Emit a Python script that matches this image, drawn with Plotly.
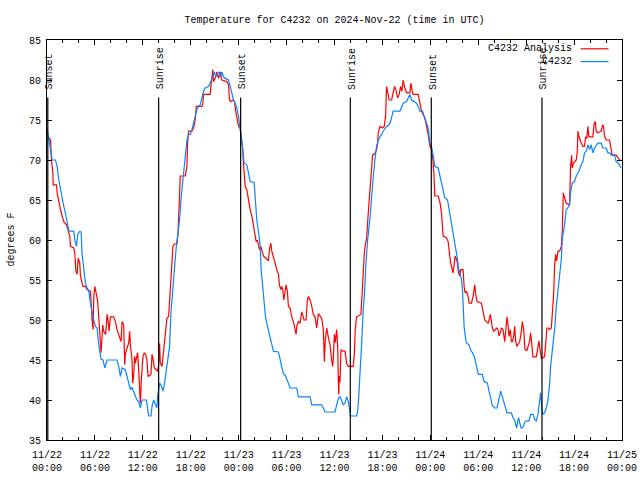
import pandas as pd
import plotly.graph_objects as go

# ---------------- data (hours after 2024-11-22 00:00 UTC, deg F) ----------------
red_hours = [0.10, 0.44, 0.56, 0.73, 0.77, 1.19, 1.27, 1.48, 1.69, 1.90, 2.10, 2.44, 2.60, 2.85, 2.94, 3.35, 3.48, 3.60, 3.77, 3.90,
             4.10, 4.19, 4.40, 4.52, 4.81, 5.02, 5.44, 5.52, 5.65, 5.77, 5.85, 5.98, 6.10, 6.19, 6.35, 6.48, 6.60, 6.69, 6.77, 6.90,
             6.98, 7.10, 7.35, 7.52, 7.65, 7.77, 7.94, 8.35, 8.56, 8.77, 9.10, 9.27, 9.40, 9.60, 9.73, 9.81, 10.02, 10.23, 10.35, 10.44,
             10.65, 10.73, 10.85, 10.98, 11.06, 11.35, 11.48, 11.60, 11.69, 11.81, 11.90, 12.02, 12.19, 12.35, 12.52, 12.65, 13.02, 13.15, 13.27, 13.44,
             13.85, 13.98, 14.10, 14.19, 14.40, 14.52, 14.69, 14.85, 15.02, 15.23, 15.35, 15.52, 15.65, 15.77, 15.94, 16.27, 16.40, 16.52, 16.60, 16.69,
             17.31, 17.52, 17.60, 17.73, 18.15, 18.35, 18.56, 18.69, 19.40, 19.52, 19.60, 20.44, 20.52, 20.65, 20.77, 20.85, 21.06, 21.27, 21.48, 21.69,
             21.90, 22.52, 22.73, 22.85, 23.02, 23.27, 23.48, 23.60, 23.77, 23.98, 24.19, 24.31, 24.48, 24.60, 24.69, 24.81, 25.02, 25.23, 25.44, 25.65,
             25.85, 26.06, 26.19, 26.35, 26.60, 26.77, 26.90, 27.10, 27.52, 27.73, 27.85, 28.02, 28.15, 28.35, 28.56, 28.77, 28.98, 29.10, 29.27, 29.40,
             29.52, 29.65, 29.77, 29.94, 30.10, 30.23, 30.44, 30.56, 30.69, 30.85, 31.06, 31.19, 31.27, 31.48, 31.69, 31.90, 32.02, 32.19, 32.44, 32.60,
             32.73, 32.94, 33.15, 33.35, 33.56, 33.77, 33.98, 34.19, 34.40, 34.60, 34.73, 34.85, 35.02, 35.23, 35.44, 35.65, 35.77, 35.85, 35.98, 36.10,
             36.27, 36.40, 36.52, 36.60, 36.69, 36.81, 37.02, 37.31, 37.52, 37.73, 38.35, 38.48, 38.60, 38.77, 39.31, 39.44, 39.60, 39.73, 39.85, 40.02,
             40.23, 40.44, 40.65, 40.77, 41.06, 41.27, 41.40, 41.48, 41.69, 42.02, 42.23, 42.40, 42.52, 42.65, 42.85, 43.15, 43.35, 43.52, 43.69, 43.90,
             44.10, 44.27, 44.44, 44.60, 44.81, 45.02, 45.44, 45.56, 45.73, 45.85, 46.48, 46.69, 46.90, 47.31, 47.52, 47.73, 47.94, 48.15, 48.27, 48.44,
             48.56, 48.98, 49.19, 49.40, 49.60, 50.02, 50.23, 50.35, 50.52, 50.69, 50.85, 50.98, 51.10, 51.27, 51.40, 51.52, 51.69, 51.81, 52.10, 52.23,
             52.35, 52.52, 52.73, 52.85, 53.15, 53.35, 53.56, 53.69, 53.85, 54.40, 54.60, 54.81, 55.02, 55.23, 55.35, 55.52, 55.65, 55.77, 55.94, 56.19,
             56.35, 56.48, 56.60, 56.77, 56.90, 57.10, 57.31, 57.44, 57.60, 57.73, 57.85, 58.02, 58.15, 58.27, 58.44, 58.56, 58.69, 58.85, 59.02, 59.19,
             59.40, 59.52, 59.69, 59.85, 60.10, 60.27, 60.44, 60.56, 60.69, 60.85, 61.27, 61.48, 61.60, 61.73, 61.90, 62.31, 62.44, 62.60, 62.77, 62.94,
             63.15, 63.27, 63.44, 63.56, 63.69, 63.81, 63.98, 64.19, 64.40, 64.52, 64.60, 64.65, 64.81, 65.02, 65.44, 65.56, 65.69, 65.77, 65.94, 66.10,
             66.27, 66.40, 66.48, 66.60, 66.73, 66.90, 67.10, 67.31, 67.44, 67.60, 67.73, 67.85, 68.35, 68.52, 68.65, 68.77, 68.98, 69.40, 69.56, 69.69,
             69.81, 70.02, 70.44, 70.60, 70.77, 71.27, 71.69, 71.85]
red_temps = [73.0, 72.5, 70.0, 68.4, 66.9, 66.9, 65.9, 64.6, 63.8, 63.0, 62.3, 61.9, 61.3, 60.5, 59.2, 59.0, 58.4, 56.3, 55.7, 57.75,
             57.1, 55.5, 54.6, 54.2, 54.2, 53.8, 53.6, 51.7, 50.0, 48.8, 52.75, 54.2, 53.8, 53.2, 52.3, 49.8, 48.4, 46.7, 45.9, 48.0,
             49.4, 48.6, 48.2, 50.7, 50.0, 48.6, 50.4, 50.4, 49.8, 48.8, 47.75, 47.3, 49.8, 49.4, 44.4, 45.7, 46.5, 47.1, 48.6, 46.9,
             45.0, 42.1, 43.0, 45.45, 44.6, 45.9, 43.8, 40.9, 39.6, 42.5, 44.2, 45.45, 45.9, 45.7, 45.0, 42.95, 43.2, 45.7, 45.2, 44.0,
             43.6, 44.4, 47.1, 44.6, 44.2, 45.45, 47.1, 49.2, 50.25, 50.4, 52.1, 55.0, 57.5, 59.2, 59.5, 59.5, 60.7, 63.0, 65.9, 68.0,
             68.0, 69.2, 72.1, 73.6, 73.6, 74.0, 75.0, 76.7, 76.7, 77.1, 78.2, 78.2, 79.2, 80.45, 81.3, 79.8, 80.2, 81.0, 80.2, 81.0,
             80.0, 79.8, 79.4, 77.5, 77.3, 77.5, 77.3, 76.3, 75.45, 74.2, 74.0, 73.2, 71.7, 69.6, 68.0, 66.7, 66.3, 65.0, 63.8, 63.0,
             61.7, 60.7, 59.8, 60.0, 58.8, 59.2, 58.8, 58.0, 57.6, 57.4, 58.8, 59.6, 58.6, 58.0, 57.1, 56.3, 55.7, 54.4, 53.8, 54.2,
             53.8, 52.5, 53.4, 54.4, 53.6, 51.7, 51.5, 50.6, 50.2, 49.8, 48.8, 48.2, 49.2, 49.8, 49.6, 51.0, 50.6, 50.0, 50.0, 52.5,
             52.95, 52.5, 51.7, 50.7, 50.4, 49.0, 50.8, 50.4, 50.2, 48.8, 44.8, 47.6, 49.0, 47.8, 46.9, 45.0, 44.2, 45.2, 48.2, 47.2,
             48.8, 46.7, 40.7, 43.0, 42.2, 46.3, 46.1, 46.1, 44.6, 44.2, 44.2, 45.7, 48.8, 50.4, 50.7, 52.95, 57.1, 58.3, 59.4, 60.2,
             63.4, 66.7, 68.8, 70.6, 70.8, 71.3, 72.1, 73.4, 74.2, 74.0, 74.2, 75.5, 79.2, 78.4, 77.5, 77.5, 78.4, 79.2, 78.8, 77.75,
             78.2, 79.2, 78.6, 80.0, 79.0, 78.4, 78.4, 79.6, 78.6, 78.2, 78.2, 77.1, 76.1, 75.25, 74.4, 73.2, 71.7, 71.3, 70.6, 68.4,
             65.5, 65.5, 64.8, 63.4, 60.5, 60.3, 59.8, 58.4, 57.3, 56.5, 55.9, 56.9, 58.0, 57.6, 57.1, 55.9, 55.5, 56.3, 56.3, 54.2,
             53.4, 53.6, 52.95, 52.1, 52.1, 52.95, 54.4, 53.2, 52.3, 52.1, 51.1, 50.0, 49.8, 49.6, 50.0, 50.7, 49.8, 49.0, 48.6, 48.8,
             49.0, 48.8, 48.0, 48.4, 49.0, 48.8, 47.3, 48.6, 50.4, 49.4, 47.95, 48.8, 47.3, 47.3, 48.0, 49.2, 47.3, 46.7, 47.1, 47.3,
             48.6, 49.8, 48.8, 46.3, 46.2, 46.7, 47.4, 48.4, 47.2, 45.4, 45.4, 46.5, 47.4, 46.4, 45.2, 45.4, 47.6, 49.0, 49.0, 48.8,
             49.0, 50.4, 53.2, 56.7, 58.2, 57.4, 58.6, 58.6, 59.2, 61.0, 63.8, 65.9, 65.3, 64.6, 64.4, 69.2, 70.6, 69.0, 69.6, 69.8,
             70.0, 71.0, 73.6, 73.0, 72.5, 72.1, 71.7, 71.7, 72.9, 72.7, 74.2, 72.9, 72.9, 74.6, 74.8, 73.6, 73.4, 73.6, 74.4, 74.2,
             73.0, 72.5, 72.5, 71.7, 70.6, 70.6, 70.0, 70.0]

blue_hours = [0.02, 0.52, 0.65, 1.06, 1.27, 1.48, 1.69, 1.90, 2.10, 2.31, 2.52, 2.73, 3.35, 3.48, 3.69, 3.85, 4.10, 4.27, 4.40, 4.60,
              4.81, 5.02, 5.23, 5.44, 5.65, 5.85, 6.06, 6.27, 6.48, 6.60, 6.77, 7.02, 7.23, 7.52, 8.77, 8.98, 9.19, 9.40, 9.81, 10.02,
              10.23, 10.44, 10.65, 10.85, 11.06, 11.27, 11.48, 11.69, 11.90, 12.44, 12.60, 12.73, 13.02, 13.15, 13.35, 13.56, 13.77, 13.85, 13.98, 14.10,
              14.27, 14.52, 14.69, 14.94, 15.15, 15.35, 15.52, 15.77, 15.98, 16.19, 16.40, 16.60, 16.77, 17.02, 17.19, 17.35, 17.52, 17.73, 17.94, 18.15,
              18.35, 18.56, 18.77, 18.98, 19.19, 19.40, 19.60, 19.81, 20.23, 20.52, 20.77, 20.94, 21.15, 21.35, 21.56, 21.69, 21.90, 22.10, 22.31, 22.73,
              22.94, 23.15, 23.35, 23.56, 23.77, 23.98, 24.19, 24.40, 24.52, 24.69, 25.02, 25.23, 25.44, 25.94, 26.06, 26.27, 26.48, 26.69, 26.81, 26.98,
              27.10, 27.23, 27.35, 27.52, 27.73, 27.94, 28.15, 28.35, 28.98, 29.19, 29.40, 29.60, 29.81, 30.02, 30.23, 30.44, 31.27, 31.48, 32.94, 33.15,
              34.40, 34.60, 34.81, 36.06, 36.27, 36.48, 36.69, 36.90, 37.10, 37.31, 37.52, 37.73, 37.94, 38.02, 38.77, 38.90, 39.02, 39.19, 39.40, 39.60,
              39.73, 39.94, 40.15, 40.44, 40.65, 40.85, 41.06, 41.27, 41.48, 41.69, 41.90, 42.10, 42.52, 42.85, 43.02, 43.19, 43.35, 44.19, 44.40, 44.60,
              45.02, 45.23, 45.44, 45.65, 46.27, 46.48, 46.69, 47.02, 47.23, 47.52, 47.73, 47.94, 48.15, 48.35, 48.56, 48.98, 49.19, 49.40, 49.60, 49.81,
              50.15, 50.35, 50.56, 50.77, 50.98, 51.06, 51.27, 51.40, 51.52, 51.69, 51.90, 52.02, 52.10, 52.23, 52.40, 52.52, 52.85, 53.02, 53.27, 53.48,
              53.69, 53.85, 54.02, 54.52, 54.69, 54.94, 55.15, 55.35, 55.52, 55.77, 56.06, 56.35, 56.60, 56.81, 57.02, 57.19, 57.44, 57.60, 58.15, 58.35,
              58.52, 58.69, 58.81, 58.94, 59.06, 59.23, 59.35, 59.56, 59.81, 60.02, 60.35, 60.56, 60.85, 61.06, 61.27, 61.48, 61.69, 61.81, 61.98, 62.10,
              62.31, 62.52, 62.73, 62.94, 63.06, 63.27, 63.44, 63.60, 63.77, 63.98, 64.19, 64.40, 64.52, 64.81, 65.02, 65.23, 65.44, 65.56, 65.77, 66.06,
              66.27, 66.60, 66.90, 67.10, 67.31, 67.52, 67.73, 67.94, 68.15, 68.35, 68.56, 68.77, 68.98, 69.40, 69.60, 70.02, 70.23, 70.44, 70.65, 71.06,
              71.27, 71.56, 71.85]
blue_temps = [73.9, 70.45, 70.0, 70.0, 69.2, 67.5, 66.3, 65.0, 64.2, 63.4, 62.3, 61.1, 61.1, 60.0, 59.2, 60.7, 61.1, 61.0, 58.2, 56.7,
              54.6, 54.0, 53.6, 52.1, 50.9, 50.0, 49.2, 49.0, 46.9, 45.9, 45.1, 45.0, 44.0, 45.0, 45.0, 44.2, 42.95, 44.0, 43.8, 42.95,
              42.1, 41.3, 41.6, 40.9, 40.5, 40.0, 39.8, 39.0, 40.0, 40.0, 38.8, 38.0, 38.0, 39.2, 40.0, 39.6, 39.0, 40.5, 41.3, 42.1,
              41.9, 41.1, 41.9, 43.8, 44.8, 46.7, 50.9, 54.6, 56.7, 59.2, 61.1, 62.5, 65.0, 67.5, 69.2, 71.3, 72.5, 73.2, 73.2, 73.8,
              74.6, 75.45, 76.3, 76.7, 76.9, 77.75, 78.6, 79.0, 79.2, 79.8, 80.45, 81.0, 80.4, 80.8, 81.0, 80.4, 81.0, 80.4, 80.2, 80.0,
              79.2, 78.4, 77.5, 77.1, 76.5, 75.45, 73.9, 72.5, 71.3, 69.6, 69.4, 68.4, 67.3, 67.2, 65.0, 62.5, 61.0, 59.4, 56.3, 54.6,
              52.75, 51.7, 50.5, 49.6, 48.8, 48.0, 47.1, 46.1, 46.0, 45.2, 44.4, 43.3, 43.1, 42.7, 42.1, 41.5, 41.5, 40.4, 40.4, 39.4,
              39.4, 39.0, 38.5, 38.5, 39.2, 40.2, 40.4, 39.8, 39.4, 39.6, 40.4, 39.8, 38.6, 38.0, 38.0, 38.6, 40.2, 44.2, 47.1, 51.3,
              52.95, 57.1, 60.0, 62.7, 65.9, 67.9, 70.0, 71.7, 72.5, 72.9, 73.2, 73.6, 74.2, 74.4, 74.8, 75.45, 76.1, 76.1, 76.7, 77.1,
              77.3, 77.75, 78.2, 77.5, 77.1, 76.7, 76.1, 76.1, 75.45, 74.6, 74.0, 72.1, 71.7, 70.6, 69.2, 69.0, 68.0, 67.1, 66.3, 65.3,
              65.0, 63.8, 62.7, 61.5, 60.5, 60.1, 58.8, 57.6, 56.5, 55.9, 55.1, 53.8, 51.7, 49.2, 47.8, 47.1, 46.9, 46.3, 45.9, 45.5,
              44.6, 44.0, 43.2, 43.2, 42.4, 42.2, 42.1, 41.1, 40.3, 39.3, 39.0, 39.0, 40.2, 41.1, 40.4, 39.7, 38.8, 38.4, 38.4, 37.8,
              37.6, 36.9, 36.5, 37.3, 37.8, 37.0, 36.5, 36.5, 37.2, 37.4, 37.4, 38.2, 38.2, 37.6, 37.4, 38.2, 39.8, 40.9, 38.8, 38.2,
              38.4, 39.0, 40.0, 42.0, 44.2, 46.1, 48.0, 49.2, 51.7, 53.8, 55.1, 57.6, 60.1, 61.9, 63.8, 64.0, 64.6, 65.9, 67.1, 67.3,
              68.0, 68.6, 69.4, 69.8, 70.9, 71.1, 71.9, 71.3, 71.9, 70.9, 71.5, 71.9, 72.1, 72.1, 71.5, 71.5, 70.9, 70.9, 70.6, 70.6,
              69.8, 69.6, 69.0]

event_hours = [0.10, 13.98, 24.25, 37.98, 48.12, 61.98]
event_labels = ["Sunset", "Sunrise", "Sunset", "Sunrise", "Sunset", "Sunrise"]

series_names = ["C4232 Analysis", "C4232"]
series_colors = ["#ff0000", "#0a84ff"]
title_text = "Temperature for C4232 on 2024-Nov-22 (time in UTC)"
y_label = "degrees F"

start = pd.Timestamp("2024-11-22 00:00")
end = pd.Timestamp("2024-11-25 00:00")


def to_time(hours):
    return [start + pd.Timedelta(hours=h) for h in hours]


FONT = "Liberation Mono, DejaVu Sans Mono, monospace"

W, H = 640, 480
fig = go.Figure()
fig.add_trace(go.Scatter(x=to_time(red_hours), y=red_temps, mode="lines", name=series_names[0],
                         line=dict(color=series_colors[0], width=1.2), showlegend=False))
fig.add_trace(go.Scatter(x=to_time(blue_hours), y=blue_temps, mode="lines", name=series_names[1],
                         line=dict(color=series_colors[1], width=1.2), showlegend=False))

shapes = []
annotations = []
for h, lab in zip(event_hours, event_labels):
    t = start + pd.Timedelta(hours=h)
    shapes.append(dict(type="line", xref="x", yref="paper", x0=t, x1=t, y0=0, y1=0.856,
                       line=dict(color="black", width=1.2)))
    annotations.append(dict(x=t, y=0.871, xref="x", yref="paper", text=lab, textangle=-90,
                            showarrow=False, xanchor="center", yanchor="bottom", xshift=2,
                            font=dict(family=FONT, size=10, color="black")))

# gnuplot-style key (text left, sample right)
key_y = [0.978, 0.946]
for name, col, ky in zip(series_names, series_colors, key_y):
    annotations.append(dict(x=0.9158, y=ky, xref="paper", yref="paper", text=name, showarrow=False,
                            xanchor="right", yanchor="middle",
                            font=dict(family=FONT, size=10, color="black")))
    shapes.append(dict(type="line", xref="paper", yref="paper", x0=0.928, x1=0.9766, y0=ky, y1=ky,
                       line=dict(color=col, width=1.2)))

annotations.append(dict(x=-0.0634, y=0.5, xref="paper", yref="paper", text=y_label, textangle=-90,
                        showarrow=False, xanchor="center", yanchor="middle",
                        font=dict(family=FONT, size=10, color="black")))

fig.update_layout(
    width=W, height=H,
    margin=dict(l=46.5, r=17.5, t=40.3, b=39.7, autoexpand=False),
    paper_bgcolor="white", plot_bgcolor="white",
    font=dict(family=FONT, size=10, color="black"),
    title=dict(text=title_text, x=0.5, xref="paper", xanchor="center", y=1 - 19 / H, yref="container",
               yanchor="middle", font=dict(family=FONT, size=10, color="black")),
    shapes=shapes, annotations=annotations,
)
fig.update_xaxes(type="date", range=[start, end], tick0=start, dtick=6 * 3600 * 1000,
                 tickformat="%m/%d<br>%H:%M", ticks="inside", ticklen=5, tickcolor="black",
                 showline=True, linecolor="black", linewidth=1, mirror="ticks", showgrid=False, zeroline=False,
                 ticklabelstandoff=5, automargin=False,
                 minor=dict(dtick=2 * 3600 * 1000, ticks="inside", ticklen=3, tickcolor="black", showgrid=False),
                 tickfont=dict(family=FONT, size=10, color="black"))
fig.update_yaxes(range=[35, 85], dtick=5, ticks="inside", ticklen=5, tickcolor="black",
                 showline=True, linecolor="black", linewidth=1, mirror="ticks", showgrid=False, zeroline=False,
                 ticklabelstandoff=3, automargin=False,
                 tickfont=dict(family=FONT, size=10, color="black"))

# remove the browser's default 8px body margin so the figure sits at the window's corner
fig.write_html("out.html", config={"displayModeBar": False},
               post_script="document.body.style.margin='0px';")
